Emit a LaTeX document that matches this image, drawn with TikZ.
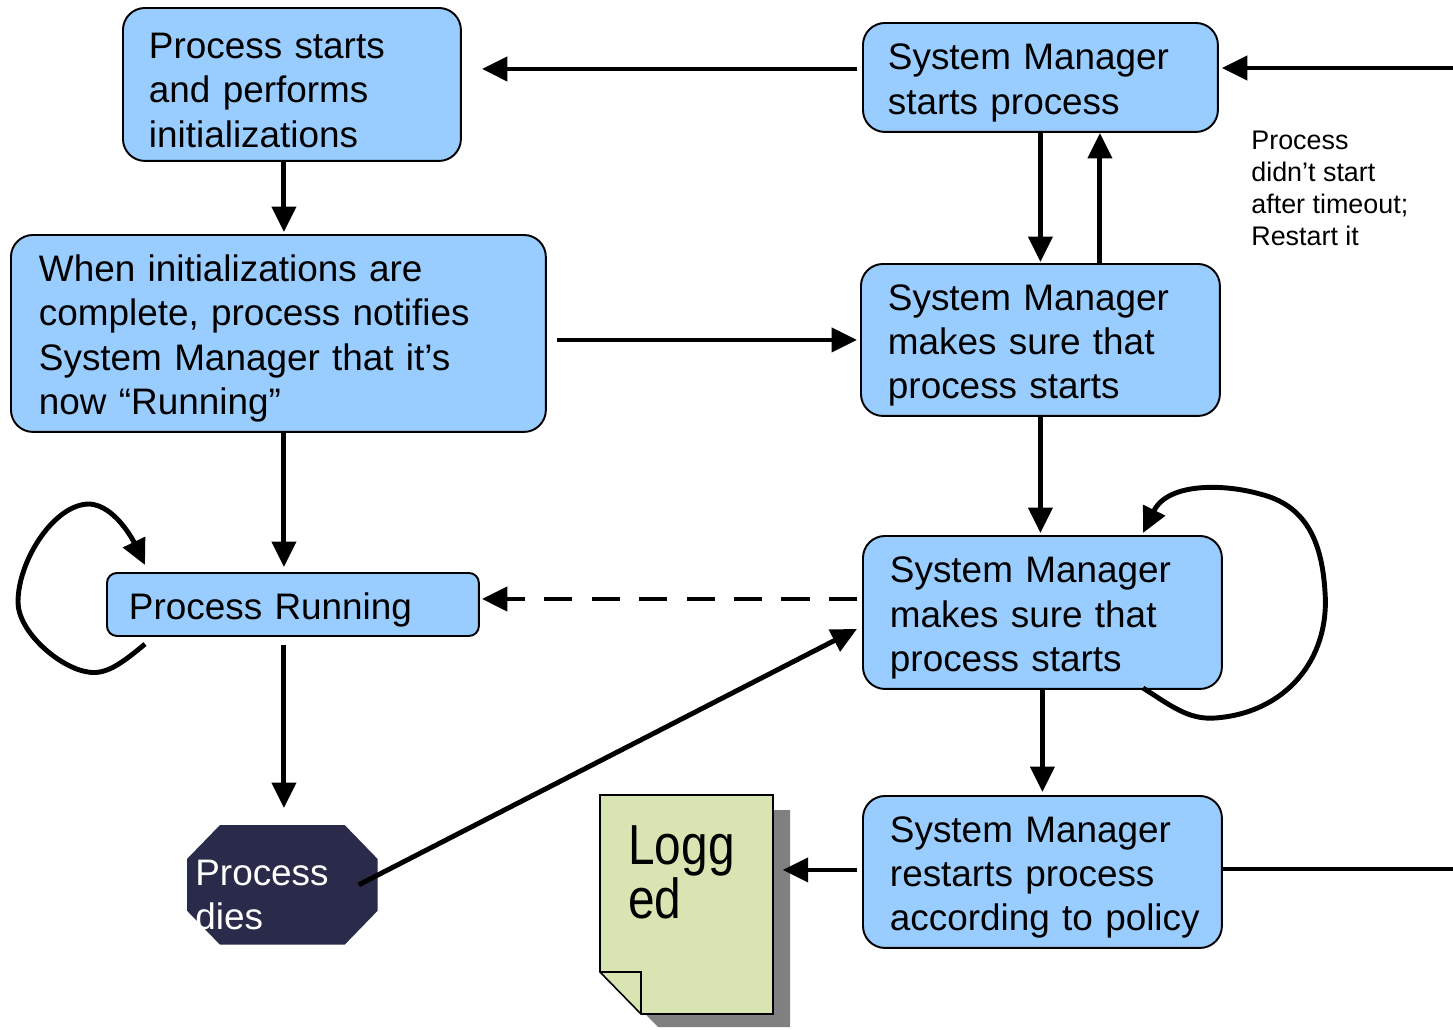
\documentclass[tikz,border=0pt]{standalone}
\usepackage{fontspec}
\setmainfont{Liberation Sans}
\usepackage{graphicx}
\usetikzlibrary{arrows.meta,calc}
\definecolor{boxblue}{HTML}{99CCFF}
\definecolor{navy}{HTML}{2A2A4A}
\definecolor{paper}{HTML}{D8E5B3}
\definecolor{shadowgrey}{HTML}{808080}

\begin{document}
\begin{tikzpicture}[x=0.02cm,y=-0.02cm,
  flowbox/.style={draw=black, line width=1.1pt, fill=boxblue, rounded corners=0.44cm,
    anchor=north west, align=left, inner ysep=0pt, text=black,
    font=\fontsize{21}{25.2}\selectfont,
    execute at begin node={\rule{0pt}{21pt}}},
  link/.style={line width=2.8pt, black},
  arr/.style={link, -{Triangle[length=14.5pt,width=13.5pt]}},
  dashedlink/.style={dash pattern=on 16pt off 11pt},
  plain/.style={anchor=north west, inner sep=0pt, align=left}
]
\useasboundingbox (0,0) rectangle (1453,1029);

% --- process side ---
\node[flowbox, minimum width=6.76cm, minimum height=3.06cm, inner xsep=0.52cm, text width=5.72cm]
  (A) at (122,7) {Process starts\\and performs\\initializations};
\node[flowbox, minimum width=10.7cm, minimum height=3.94cm, inner xsep=0.56cm, text width=9.58cm]
  (B) at (10,234) {When initializations are\\complete, process notifies\\System Manager that it’s\\now “Running”};
\node[flowbox, rounded corners=0.2cm, minimum width=7.44cm, minimum height=1.26cm, inner xsep=0.44cm, text width=6.56cm]
  (C) at (106,572) {Process Running};

% octagon for the dead process
\node[anchor=north west, inner sep=0pt, minimum width=3.8cm, minimum height=2.38cm] (D) at (187,825) {};
\fill[navy] ([xshift=0.66cm]D.north west) -- ([xshift=-0.66cm]D.north east)
  -- ([yshift=-0.68cm]D.north east) -- ([yshift=0.68cm]D.south east)
  -- ([xshift=-0.66cm]D.south east) -- ([xshift=0.66cm]D.south west)
  -- ([yshift=0.68cm]D.south west) -- ([yshift=-0.68cm]D.north west) -- cycle;
\node[plain, text=white, font=\fontsize{21}{25}\selectfont] (Dt) at (195,860) {Process\\dies};

% --- system manager side ---
\node[flowbox, minimum width=7.1cm, minimum height=2.18cm, inner xsep=0.5cm, text width=6.1cm]
  (E) at (862,22) {System Manager\\starts process};
\node[flowbox, minimum width=7.18cm, minimum height=3.04cm, inner xsep=0.54cm, text width=6.1cm]
  (F) at (860,263) {System Manager\\makes sure that\\process starts};
\node[flowbox, minimum width=7.18cm, minimum height=3.06cm, inner xsep=0.54cm, text width=6.1cm]
  (G) at (862,535) {System Manager\\makes sure that\\process starts};
\node[flowbox, minimum width=7.18cm, minimum height=3.04cm, inner xsep=0.54cm, text width=6.1cm]
  (H) at (862,795) {System Manager\\restarts process\\\mbox{according to policy}};

\node[plain, font=\fontsize{15.3}{18.1}\selectfont] (note) at (1251,131)
  {Process\\didn’t start\\after timeout;\\Restart it};

% log sheet with drop shadow and folded corner
\node[anchor=north west, inner sep=0pt, minimum width=3.46cm, minimum height=4.38cm] (L) at (600,795) {};
\fill[shadowgrey] (617,810) -- (790,810) -- (790,1027) -- (658,1027) -- (617,985) -- cycle;
\filldraw[fill=paper, draw=black, line width=0.9pt]
  (600,795) -- (773,795) -- (773,1014) -- (641,1014) -- (600,972) -- cycle;
\draw[line width=0.9pt] (600,972) -- (641,972) -- (641,1014);
\node[plain, font=\fontsize{27.2}{31}\selectfont] (Lt) at (628,825)
  {\scalebox{1}[1.18]{Logg}\\\scalebox{1}[1.18]{ed}};

% --- connectors ---
\coordinate (rt) at (1453,68);
\coordinate (rb) at (1453,869);

\coordinate (e1) at ([xshift=-0.1cm,yshift=0.17cm]E.west);
\draw[arr, shorten >=0.4cm] (e1) -- (e1 -| A.east);
\draw[arr, shorten >=0.06cm] (rt) -- (rt -| E.east);

\coordinate (a1) at ([xshift=-0.16cm]A.south);
\draw[arr, shorten >=0.04cm] (a1) -- (a1 |- B.north);

\draw[arr, shorten <=0.2cm, shorten >=0.06cm] (B.east |- F.west) -- (F.west);

\draw[arr, shorten >=0.02cm] (E.south) -- (E.south |- F.north);
\coordinate (f1) at ([xshift=1.19cm]F.north);
\draw[arr] (f1) -- (f1 |- E.south);

\coordinate (b1) at ([xshift=0.11cm]B.south);
\draw[arr, shorten >=0.1cm] (b1) -- (b1 |- C.north);

\draw[arr, shorten >=0.04cm] (F.south) -- (F.south |- G.north);

\coordinate (g1) at ([yshift=0.27cm]G.west);
\draw[arr, dashedlink, shorten <=0.1cm, shorten >=0.04cm] (g1) -- (g1 -| C.east);

% self loop on the running process
\coordinate (c1) at (145,644);
\coordinate (c2) at (145,565);
\draw[arr] (c1) .. controls (120,665) and (105,675) .. (88,672)
  .. controls (60,668) and (18,632) .. (18,602)
  .. controls (18,560) and (55,503) .. (90,504)
  .. controls (115,506) and (133,540) .. (c2);

\coordinate (c3) at ([xshift=-0.18cm]C.south);
\draw[arr, shorten <=0.16cm, shorten >=0.34cm] (c3) -- (c3 |- D.north);

\coordinate (d1) at ([xshift=-0.38cm]D.east);
\coordinate (g2) at ([xshift=-0.1cm,yshift=-0.33cm]G.west);
\draw[arr] (d1) -- (g2);

% self loop on the watchdog box
\coordinate (g3) at (1143,688);
\coordinate (g4) at (1143,533);
\draw[arr] (g3) .. controls (1170,705) and (1188,720) .. (1215,718)
  .. controls (1285,713) and (1330,660) .. (1325,592)
  .. controls (1322,540) and (1305,505) .. (1260,494)
  .. controls (1225,484) and (1168,482) .. (g4);

\draw[arr, shorten >=0.06cm] (G.south) -- (G.south |- H.north);

\coordinate (h1) at ([xshift=-0.1cm,yshift=0.04cm]H.west);
\coordinate (l1) at ([xshift=0.18cm]L.east);
\draw[arr] (h1) -- (h1 -| l1);

\draw[link] (H.east |- rb) -- (rb);
\end{tikzpicture}
\end{document}
